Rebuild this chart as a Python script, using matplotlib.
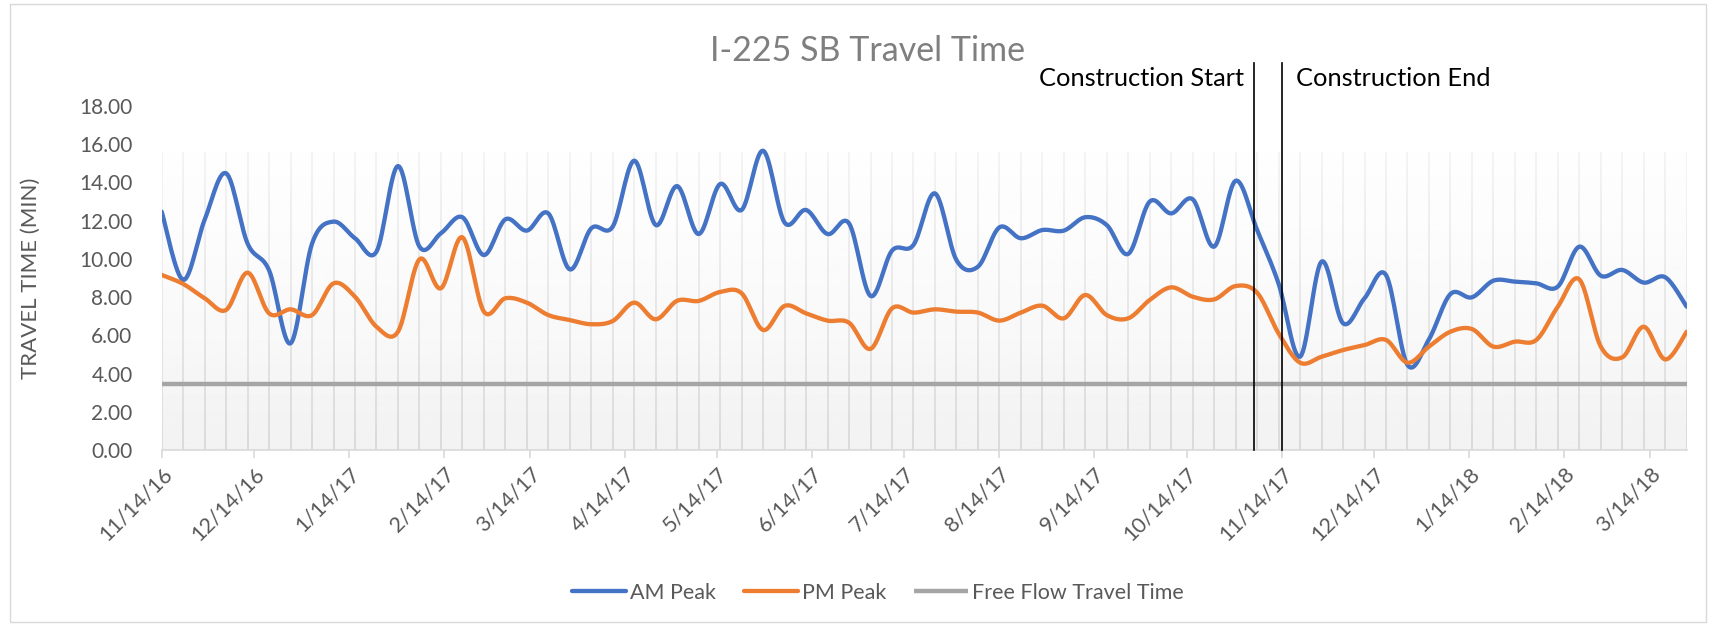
import matplotlib
matplotlib.use("Agg")
import matplotlib.pyplot as plt
import matplotlib.dates as mdates
import matplotlib.ticker as mticker
from matplotlib.patches import Rectangle
import numpy as np
import pandas as pd

plt.rcParams['font.family'] = ['Lato', 'DejaVu Sans']

# weekly readings, Mondays from 11/14/16
weeks = pd.date_range("2016-11-14", periods=72, freq="7D")

am_peak = [12.47, 8.90, 12.05, 14.48, 10.80, 9.40, 5.58, 10.80, 11.95, 11.08,
           10.38, 14.86, 10.64, 11.34, 12.18, 10.20, 12.07, 11.48, 12.38, 9.45,
           11.60, 11.69, 15.14, 11.77, 13.81, 11.30, 13.92, 12.56, 15.66, 11.90,
           12.56, 11.30, 11.86, 8.06, 10.43, 10.73, 13.43, 9.94, 9.59, 11.65,
           11.08, 11.51, 11.48, 12.18, 11.77, 10.26, 13.00, 12.38, 13.12, 10.64,
           14.09, 11.51, 8.70, 4.88, 9.86, 6.63, 7.94, 9.16, 4.45, 5.79,
           8.16, 7.99, 8.86, 8.81, 8.72, 8.55, 10.64, 9.12, 9.42, 8.76,
           9.04, 7.50]

pm_peak = [9.16, 8.69, 7.94, 7.33, 9.28, 7.15, 7.36, 7.06, 8.72, 8.02,
           6.45, 6.19, 9.98, 8.46, 11.13, 7.24, 7.94, 7.71, 7.06, 6.80,
           6.58, 6.75, 7.71, 6.84, 7.81, 7.80, 8.27, 8.20, 6.28, 7.54,
           7.15, 6.77, 6.66, 5.29, 7.41, 7.19, 7.36, 7.24, 7.19, 6.77,
           7.19, 7.55, 6.89, 8.11, 7.06, 6.89, 7.85, 8.51, 8.02, 7.88,
           8.58, 8.23, 6.10, 4.57, 4.88, 5.23, 5.49, 5.76, 4.57, 5.41,
           6.19, 6.33, 5.41, 5.67, 5.76, 7.50, 8.93, 5.41, 4.85, 6.45,
           4.74, 6.19]

free_flow = 3.47
construction_start = pd.Timestamp("2017-11-05")
construction_end = pd.Timestamp("2017-11-14")

BLUE = "#4472C4"
ORANGE = "#ED7D31"
GRAY = "#A5A5A5"
TEXT = "#595959"


def smooth(x, y, n=16):
    # excel style smoothed line: bezier through each point
    p = np.column_stack([x, y]).astype(float)
    p = np.vstack([p[0], p, p[-1]])
    t = np.linspace(0, 1, n, endpoint=False)[:, None]
    out = []
    for i in range(1, len(p) - 2):
        p0, p1, p2, p3 = p[i - 1], p[i], p[i + 1], p[i + 2]
        c1 = p1 + (p2 - p0) / 6
        c2 = p2 - (p3 - p1) / 6
        out.append((1 - t) ** 3 * p1 + 3 * (1 - t) ** 2 * t * c1
                   + 3 * (1 - t) * t ** 2 * c2 + t ** 3 * p2)
    out.append(p[-2][None])
    out = np.vstack(out)
    return out[:, 0], out[:, 1]


xnum = mdates.date2num(weeks)

fig = plt.figure(figsize=(17.28, 6.26), dpi=100)
ax = fig.add_axes([161.7 / 1728, 176 / 626, 1525 / 1728, 344 / 626])

# chart border
fig.patches.append(Rectangle((10 / 1728, 4 / 626), 1696 / 1728, 618 / 626,
                             transform=fig.transFigure, fill=False,
                             edgecolor="#d9d9d9", lw=1))

# plot area gradient + weekly gridlines
top = 15.6
grad = np.linspace(0.949, 0.992, 256)[::-1][:, None] * np.ones((1, 2))
ax.imshow(grad, cmap="gray", vmin=0, vmax=1, aspect="auto",
          extent=[xnum[0], xnum[-1], 0, top], zorder=0)
ax.vlines(xnum, 0, top, color="#d9d9d9", lw=1.3, zorder=1)
fade = np.zeros((256, 2, 4))
fade[..., :3] = 1.0
fade[..., 3] = np.linspace(0.7, 0.0, 256)[:, None]
ax.imshow(fade, aspect="auto", extent=[xnum[0], xnum[-1], 0, top], zorder=1.5)

l_ff, = ax.plot([xnum[0], xnum[-1]], [free_flow, free_flow], color=GRAY,
                lw=3.2, zorder=2, solid_capstyle="butt")
sx, sy = smooth(xnum, am_peak)
l_am, = ax.plot(sx, sy, color=BLUE, lw=3.1, zorder=3, solid_capstyle="round")
sx, sy = smooth(xnum, pm_peak)
l_pm, = ax.plot(sx, sy, color=ORANGE, lw=3.1, zorder=3, solid_capstyle="round")

# construction markers
for d in [construction_start, construction_end]:
    ax.plot([d, d], [0, 20.25], color="black", lw=1.2, zorder=4, clip_on=False)
ax.annotate("Construction Start", xy=(construction_start, 19.45), xytext=(-7, 0),
            textcoords="offset points", ha="right", va="center", fontsize=18.3,
            color="black", annotation_clip=False)
ax.annotate("Construction End", xy=(construction_end, 19.45), xytext=(10, 0),
            textcoords="offset points", ha="left", va="center", fontsize=18.3,
            color="black", annotation_clip=False)

ax.set_xlim(xnum[0], xnum[-1])
ax.set_ylim(0, 18)
ax.yaxis.set_major_locator(mticker.MultipleLocator(2))
ax.yaxis.set_major_formatter(mticker.FormatStrFormatter("%.2f"))
ax.xaxis.set_major_locator(mdates.MonthLocator(bymonthday=14))
ax.xaxis.set_major_formatter(mticker.FuncFormatter(
    lambda v, pos: "{d.month}/{d.day}/{d:%y}".format(d=mdates.num2date(v))))

for s in ["top", "right", "left"]:
    ax.spines[s].set_visible(False)
ax.spines["bottom"].set_color("#d9d9d9")
ax.spines["bottom"].set_linewidth(1.2)
ax.spines["bottom"].set_zorder(2.5)
ax.tick_params(axis="y", length=0, pad=21, labelsize=15, labelcolor=TEXT)
ax.tick_params(axis="x", length=6, width=1.2, color="#d9d9d9", pad=4,
               labelsize=15.5, labelcolor=TEXT)
plt.setp(ax.get_xticklabels(), rotation=45, ha="right", rotation_mode="anchor")
ax.set_facecolor("white")

fig.text(31 / 1728, 1 - 278 / 626, "TRAVEL TIME (MIN)", rotation=90,
         ha="center", va="center", fontsize=16, color=TEXT)
fig.text(867 / 1728, 1 - 51 / 626, "I-225 SB Travel Time", ha="center",
         va="center", fontsize=24.5, color="#7f7f7f")

fig.legend([l_am, l_pm, l_ff], ["AM Peak", "PM Peak", "Free Flow Travel Time"],
           loc="center", bbox_to_anchor=(878 / 1728, 1 - 593 / 626), ncol=3,
           frameon=False, fontsize=15.5, labelcolor=TEXT, handlelength=2.5,
           handletextpad=0.2, columnspacing=1.3)

fig.savefig("out.png", dpi=100)
